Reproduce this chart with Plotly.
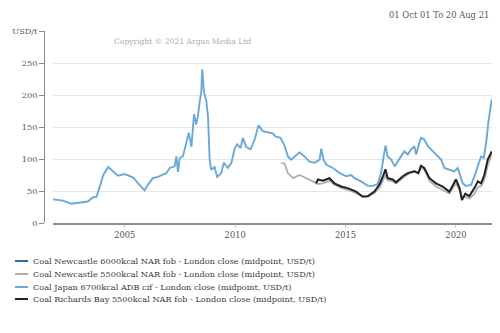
import plotly.graph_objects as go

# ---- data ----
japan_dates = ["2001-10-01","2002-03-15","2002-08-01","2002-12-15","2003-05-01","2003-07-20","2003-09-20","2003-11-15",
 "2004-01-10","2004-04-01","2004-06-20","2004-09-10","2005-01-01","2005-03-25","2005-05-20","2005-08-10","2005-11-25",
 "2006-01-20","2006-04-10","2006-07-01","2006-09-25","2006-11-20","2007-01-15","2007-04-05","2007-05-05","2007-05-30",
 "2007-06-28","2007-08-20","2007-10-15","2007-11-25","2008-01-08","2008-02-20","2008-03-28","2008-04-25","2008-05-22",
 "2008-06-20","2008-07-05","2008-08-03","2008-09-10","2008-10-08","2008-11-05","2008-12-01","2009-01-25","2009-03-10",
 "2009-05-15","2009-06-28","2009-09-01","2009-10-30","2009-12-25","2010-02-05","2010-04-01","2010-05-08","2010-07-01",
 "2010-09-12","2010-11-18","2011-01-22","2011-04-01","2011-06-25","2011-09-12","2011-11-05","2012-01-22","2012-03-28",
 "2012-05-22","2012-07-15","2012-09-10","2012-12-01","2013-02-20","2013-05-15","2013-08-08","2013-10-28","2013-11-25",
 "2014-01-01","2014-02-18","2014-06-05","2014-09-25","2015-01-12","2015-04-05","2015-05-30","2015-09-15","2016-01-05",
 "2016-03-28","2016-06-18","2016-08-10","2016-09-20","2016-10-22","2016-11-28","2017-01-25","2017-03-22","2017-07-08",
 "2017-09-01","2017-10-26","2017-12-20","2018-02-12","2018-03-15","2018-04-26","2018-06-01","2018-07-26","2018-09-25",
 "2018-12-15","2019-03-08","2019-05-01","2019-06-25","2019-09-15","2019-12-05","2020-01-30","2020-03-10","2020-04-22",
 "2020-06-15","2020-09-10","2020-11-02","2020-12-15","2021-01-22","2021-02-20","2021-04-05","2021-05-15","2021-06-20",
 "2021-07-25","2021-08-15"]
japan_vals = [37,35,30,32,33.5,40,41,57,
 75,87.5,80.7,74,76.5,73,71,62,51,
 60,70,72,75,78,86,88.5,104,80,
 101.5,104,125,141,119,170,154,167,188,
 206,240,204,191,167,99,83,87.5,72,
 78,94,86,94,117,123,117,133,119,
 115,130,152.5,143.5,142,140,135,133,121,
 104,99,104,110.5,104,96,94,99,116,
 99,91,86,78,73,75,70,65,58,
 58,61,78,99,121,104,99,88.5,104,
 112,107,115,120,107,122.5,133,130.5,120,
 112,104,99,86,83,80.7,86,75,62,
 58,59.5,73,86,99,104,101.5,125,157,
 180,193]

rb_dates = ["2013-09-01","2013-10-01","2013-12-20","2014-04-10","2014-07-01","2014-10-20","2015-02-05","2015-06-25",
 "2015-10-12","2016-01-05","2016-04-22","2016-07-15","2016-09-20","2016-10-22","2016-11-28","2017-02-20","2017-04-15",
 "2017-08-05","2017-10-26","2018-02-12","2018-04-20","2018-06-01","2018-07-26","2018-10-20","2019-02-05","2019-05-25",
 "2019-09-15","2020-01-01","2020-03-01","2020-04-10","2020-06-05","2020-08-10","2020-11-02","2020-12-28","2021-02-20",
 "2021-04-15","2021-06-10","2021-08-15"]
rb_vals = [62,68,66,70,62,57,54.5,49,
 41,42,49,60,75,84,70,68,63.5,
 73,78,80.7,78,89.5,86,70,62,57,
 49,68,54.5,36,46,42,54.5,65,62,
 75,99,112]

nc55_dates = ["2012-02-01","2012-03-28","2012-05-22","2012-08-15","2012-12-01","2013-03-20","2013-07-08","2013-10-01",
 "2013-12-20","2014-04-10","2014-07-01","2014-10-20","2015-02-05","2015-06-25","2015-10-12","2016-01-05","2016-04-22",
 "2016-07-15","2016-09-20","2016-10-22","2016-11-28","2017-02-20","2017-04-15","2017-08-05","2017-10-26","2018-02-12",
 "2018-04-20","2018-06-01","2018-07-26","2018-10-20","2019-02-05","2019-05-25","2019-09-15","2020-01-01","2020-03-01",
 "2020-04-10","2020-06-05","2020-08-10","2020-11-02","2020-12-28","2021-02-20","2021-04-15","2021-06-10","2021-08-15"]
nc55_vals = [94,93,78,70,75,70,65,61,
 62,66,60,55,52,47,42,41,47,
 55,67,75,67,65,62,70,76,81,
 78,86,84,66,57,52,46,62,52,
 40,41,38,46,56,58,68,90,108]

series_names = [
    "Coal Newcastle 6000kcal NAR fob - London close (midpoint, USD/t)",
    "Coal Newcastle 5500kcal NAR fob - London close (midpoint, USD/t)",
    "Coal Japan 6700kcal ADB cif - London close (midpoint, USD/t)",
    "Coal Richards Bay 5500kcal NAR fob - London close (midpoint, USD/t)",
]
series_colors = ["#2b6ca3", "#b0b0b0", "#6aa9d6", "#222222"]

y_tickvals = [0, 50, 100, 150, 200, 250, 300]
y_ticktext = ["0", "50", "100", "150", "200", "250", "USD/t"]
x_tickvals = ["2005-01-01", "2010-01-01", "2015-01-01", "2020-01-01"]
x_ticktext = ["2005", "2010", "2015", "2020"]

FONT = "DejaVu Serif"

fig = go.Figure()
fig.add_trace(go.Scatter(x=[], y=[], mode="lines", name=series_names[0],
                         line=dict(color=series_colors[0], width=1.9)))
fig.add_trace(go.Scatter(x=nc55_dates, y=nc55_vals, mode="lines", name=series_names[1],
                         line=dict(color=series_colors[1], width=1.9)))
fig.add_trace(go.Scatter(x=japan_dates, y=japan_vals, mode="lines", name=series_names[2],
                         line=dict(color=series_colors[2], width=1.9)))
fig.add_trace(go.Scatter(x=rb_dates, y=rb_vals, mode="lines", name=series_names[3],
                         line=dict(color=series_colors[3], width=2)))

W, H = 500, 333
ml, mr, mt, mb = 44, 8, 31, 110
pw, ph = W - ml - mr, H - mt - mb

def px2paper_x(px):
    return (px - ml) / pw

def px2paper_y(py):
    return (H - mb - py) / ph

shapes = []
annotations = []
leg_y = [261, 274, 287, 299]
for name, col, py in zip(series_names, series_colors, leg_y):
    shapes.append(dict(type="line", xref="paper", yref="paper",
                       x0=px2paper_x(15), x1=px2paper_x(28),
                       y0=px2paper_y(py), y1=px2paper_y(py),
                       line=dict(color=col, width=2)))
    annotations.append(dict(text=name, xref="paper", yref="paper",
                            x=px2paper_x(31), y=px2paper_y(py),
                            xanchor="left", yanchor="middle", showarrow=False,
                            font=dict(family=FONT, size=8.2, color="#3a3a3a")))

annotations.append(dict(text="01 Oct 01 To 20 Aug 21", xref="paper", yref="paper",
                        x=px2paper_x(491), y=px2paper_y(15), xanchor="right", yanchor="middle",
                        showarrow=False, font=dict(family=FONT, size=8.4, color="#555")))
annotations.append(dict(text="Copyright © 2021 Argus Media Ltd", xref="paper", yref="paper",
                        x=px2paper_x(112), y=px2paper_y(41), xanchor="left", yanchor="middle",
                        showarrow=False, font=dict(family=FONT, size=7.6, color="#aaaaaa")))

fig.update_layout(
    width=W, height=H,
    margin=dict(l=ml, r=mr, t=mt, b=mb),
    paper_bgcolor="white", plot_bgcolor="white",
    showlegend=False,
    font=dict(family=FONT, size=8, color="#555"),
    xaxis=dict(domain=[9 / pw, 1], type="date",
               range=["2001-10-01", "2021-08-20"],
               showgrid=False, zeroline=False,
               showline=True, linecolor="#8c8c8c", linewidth=1.5,
               ticks="outside", ticklen=3, tickcolor="#cccccc",
               tickvals=x_tickvals, ticktext=x_ticktext,
               tickfont=dict(family=FONT, size=8.3, color="#555")),
    yaxis=dict(anchor="free", position=0, range=[0, 300],
               tickvals=y_tickvals, ticktext=y_ticktext,
               showgrid=True, gridcolor="#e6e6e6", gridwidth=1, zeroline=False,
               showline=True, linecolor="#8c8c8c", linewidth=1,
               ticks="outside", ticklen=5, tickcolor="#8c8c8c",
               tickfont=dict(family=FONT, size=8.2, color="#555")),
    shapes=shapes,
    annotations=annotations,
)

fig.write_html("out.html")
